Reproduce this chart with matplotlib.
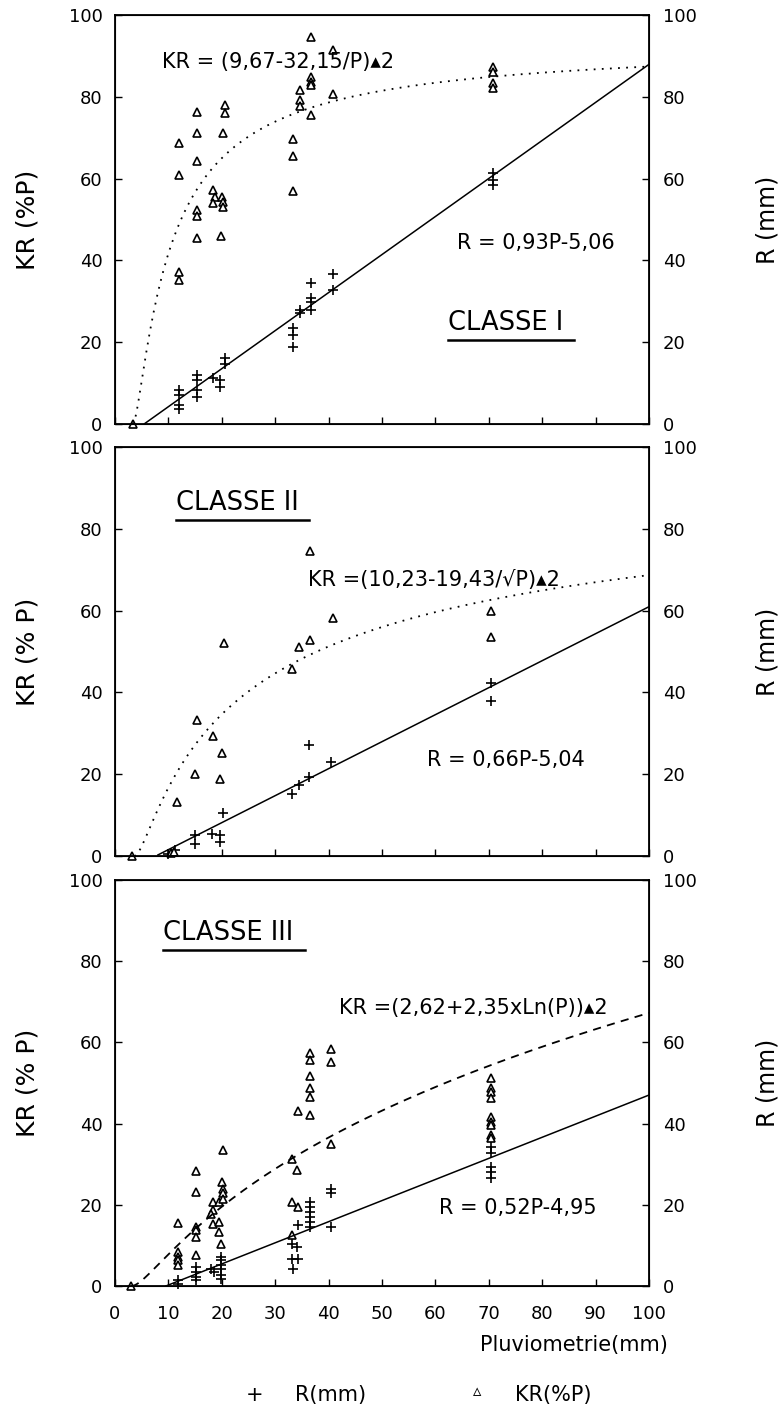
import numpy as np
import matplotlib
matplotlib.use("Agg")
import matplotlib.pyplot as plt

plt.rcParams['font.family'] = ['DejaVu Sans']

# ---- data ----
# CLASSE I
p1_kr = [3.3, 11.9, 11.9, 11.9, 11.9, 15.4, 15.4, 15.4, 15.3, 15.3, 15.3, 18.4, 18.8, 18.4,
         20.0, 20.3, 20.3, 19.9, 20.6, 20.6, 20.3, 33.4, 33.4, 33.4, 34.6, 34.6, 34.6,
         36.7, 36.7, 36.7, 36.7, 36.7, 40.8, 40.8, 70.8, 70.8, 70.8, 70.8]
kr1 = [0, 68.6, 60.9, 37.2, 35.2, 76.4, 71.1, 64.3, 52.3, 50.9, 45.4, 57.2, 55.6, 54.1,
       55.6, 54.4, 53.1, 46.0, 78.0, 76.0, 71.1, 69.6, 65.6, 57.0, 81.7, 79.2, 77.8,
       94.5, 84.9, 83.7, 82.9, 75.5, 91.4, 80.6, 87.4, 86.1, 83.3, 82.1]
p1_r = [12.0, 12.0, 12.0, 12.0, 15.3, 15.3, 15.3, 15.3, 18.4, 19.7, 19.7, 20.6, 20.6,
        33.3, 33.3, 33.3, 34.6, 34.6, 36.7, 36.7, 36.7, 36.7, 40.8, 40.8, 70.8, 70.8, 70.8]
r1 = [8.3, 7.1, 4.6, 3.8, 12.0, 10.8, 8.3, 6.7, 11.2, 10.8, 9.1, 16.1, 14.8,
      23.4, 21.8, 18.9, 27.1, 27.9, 34.4, 30.7, 29.9, 27.9, 36.8, 32.8, 61.3, 59.7, 58.5]

# CLASSE II
p2_kr = [3.1, 10.4, 11.1, 11.7, 15.3, 15.0, 18.3, 20.0, 19.7, 20.4, 33.1, 34.4, 36.6, 36.6,
         40.8, 70.5, 70.5]
kr2 = [0, 0.8, 1.0, 13.2, 33.3, 20.0, 29.3, 25.3, 18.9, 52.1, 45.6, 51.1, 52.9, 74.6,
       58.3, 60.0, 53.5]
p2_r = [10.0, 11.3, 15.0, 15.0, 18.1, 19.7, 19.7, 20.3, 33.1, 34.4, 36.4, 36.4, 40.4, 70.5, 70.5]
r2 = [0.6, 1.4, 5.1, 3.0, 5.5, 5.1, 3.5, 10.4, 15.2, 17.3, 27.1, 19.3, 23.0, 42.4, 38.0]

# CLASSE III
p3_kr = [3.0, 11.8, 11.8, 11.8, 11.8, 11.8, 15.2, 15.2, 15.1, 15.1, 15.1, 15.1,
         18.3, 18.3, 18.0, 18.3, 19.5, 19.5, 19.8, 19.5, 20.0, 20.3, 20.3, 20.3, 20.3,
         33.1, 34.1, 33.1, 34.2, 33.1, 34.2, 36.6, 36.6, 36.6, 36.6, 36.6, 36.6,
         40.5, 40.5, 40.4, 70.5, 70.5, 70.5, 70.5, 70.5, 70.5, 70.5, 70.5, 70.5]
kr3 = [0, 15.5, 8.4, 7.1, 6.3, 5.1, 28.3, 23.2, 14.5, 13.7, 12.1, 7.6,
       20.7, 18.7, 17.8, 15.4, 15.8, 13.3, 10.4, 20.7, 25.6, 24.0, 22.8, 21.5, 33.6,
       31.4, 28.5, 20.7, 19.5, 12.5, 43.1, 57.4, 55.6, 51.7, 48.8, 46.6, 42.1,
       58.3, 55.1, 35.1, 51.2, 48.7, 47.9, 46.3, 41.7, 40.5, 39.7, 37.2, 36.4]
p3_r = [11.8, 11.8, 15.2, 15.2, 15.2, 15.2, 18.0, 18.5, 19.8, 19.8, 19.8, 19.8, 19.8, 19.8,
        33.1, 34.0, 33.1, 34.2, 33.3, 34.2, 36.5, 36.5, 36.5, 36.5, 36.5, 36.5,
        40.4, 40.4, 40.4, 70.5, 70.5, 70.5, 70.5, 70.5]
r3 = [1.4, 0.6, 4.7, 3.5, 2.2, 1.4, 4.3, 3.5, 7.1, 6.3, 5.1, 4.3, 2.6, 1.8,
      10.4, 9.6, 6.7, 6.7, 4.3, 15.0, 20.7, 19.5, 18.2, 17.0, 15.8, 14.5,
      24.0, 22.8, 14.5, 34.3, 32.7, 29.4, 28.1, 26.5]

# fitted relations printed on the figure
r_slope = [0.93, 0.66, 0.52]
r_icept = [-5.06, -5.04, -4.95]
kr_a = [9.67, 10.23, -2.62]
kr_b = [32.15, 19.43, 2.35]

classes = ["CLASSE I", "CLASSE II", "CLASSE III"]
r_text = ["R = 0,93P-5,06", "R = 0,66P-5,04", "R = 0,52P-4,95"]
kr_text = ["KR = (9,67-32,15/P)\u25b42", "KR =(10,23-19,43/\u221aP)\u25b42",
           "KR =(2,62+2,35xLn(P))\u25b42"]
ylabels = ["KR (%P)", "KR (% P)", "KR (% P)"]
xticks = [0, 10, 20, 30, 40, 50, 60, 70, 80, 90, 100]
yticks = [0, 20, 40, 60, 80, 100]

P = [p1_kr, p2_kr, p3_kr]
KR = [kr1, kr2, kr3]
PR = [p1_r, p2_r, p3_r]
R = [r1, r2, r3]


def kr_curve(i, p):
    if i == 0:
        return (kr_a[0] - kr_b[0] / p) ** 2
    if i == 1:
        return (kr_a[1] - kr_b[1] / np.sqrt(p)) ** 2
    return (kr_a[2] + kr_b[2] * np.log(p)) ** 2


fig = plt.figure(figsize=(7.82, 14.14), dpi=100)
boxes = [(0.147, 0.7001, 0.683, 0.2893),
         (0.147, 0.3946, 0.683, 0.2893),
         (0.147, 0.0905, 0.683, 0.2871)]
p0 = [32.15 / 9.67, (19.43 / 10.23) ** 2, np.exp(2.62 / 2.35)]
styles = [(0, (1, 3.5)), (0, (1, 3.5)), (0, (4.5, 3.5))]
label_pos = [(62.4, 24.7), (11.4, 86.3), (9.0, 86.9)]
ul_width = [23.5, 24.9, 26.6]
kr_pos = [(8.8, 88.5), (36.1, 67.5), (41.9, 68.5)]
rt_pos = [(64.0, 44.3), (58.4, 23.5), (60.7, 19.2)]

for i in range(3):
    ax = fig.add_axes(boxes[i])
    ax.plot(PR[i], R[i], ls='none', marker='+', ms=7, mew=1.2, color='black', clip_on=False)
    ax.plot(P[i], KR[i], ls='none', marker='^', ms=6, mew=1.2, mfc='white', mec='black',
            clip_on=False)
    x = np.linspace(0, 100, 200)
    y = r_slope[i] * x + r_icept[i]
    ax.plot(x[y >= 0], y[y >= 0], color='black', lw=1.1)
    xc = np.linspace(p0[i], 100, 300)
    ax.plot(xc, kr_curve(i, xc), color='black', lw=1.3, ls=styles[i])

    ax.set_xlim(0, 100)
    ax.set_ylim(0, 100)
    ax.set_xticks(xticks)
    ax.set_yticks(yticks)
    ax.tick_params(direction='in', length=5, width=1, labelsize=13)
    ax.tick_params(axis='y', pad=9)
    ax.tick_params(axis='x', pad=14)
    if i < 2:
        ax.tick_params(labelbottom=False)
    for s in ax.spines.values():
        s.set_linewidth(1.3)
    ax.set_ylabel(ylabels[i], fontsize=18, labelpad=21)

    ax2 = ax.twinx()
    ax2.set_ylim(0, 100)
    ax2.set_yticks(yticks)
    ax2.tick_params(direction='in', length=5, width=1, labelsize=13, pad=10)
    ax2.set_ylabel("R (mm)", fontsize=17, labelpad=42)

    lx, ly = label_pos[i]
    ax.text(lx, ly, classes[i], fontsize=18.5, va='center', ha='left')
    ax.plot([lx, lx + ul_width[i]], [ly - 4.2, ly - 4.2], color='black', lw=1.8)
    ax.text(kr_pos[i][0], kr_pos[i][1], kr_text[i], fontsize=15, va='center', ha='left')
    ax.text(rt_pos[i][0], rt_pos[i][1], r_text[i], fontsize=15, va='center', ha='left')

fig.text(668 / 782, 1 - 1345 / 1414, "Pluviometrie(mm)", fontsize=15, ha='right', va='center')
fig.text(255 / 782, 1 - 1395 / 1414, "+", fontsize=15, ha='center', va='center')
fig.text(295 / 782, 1 - 1395 / 1414, "R(mm)", fontsize=15, ha='left', va='center')
fig.text(477 / 782, 1 - 1391 / 1414, "\u25b5", fontsize=12, ha='center', va='center')
fig.text(515 / 782, 1 - 1395 / 1414, "KR(%P)", fontsize=15, ha='left', va='center')

fig.savefig("out.png", dpi=100)
